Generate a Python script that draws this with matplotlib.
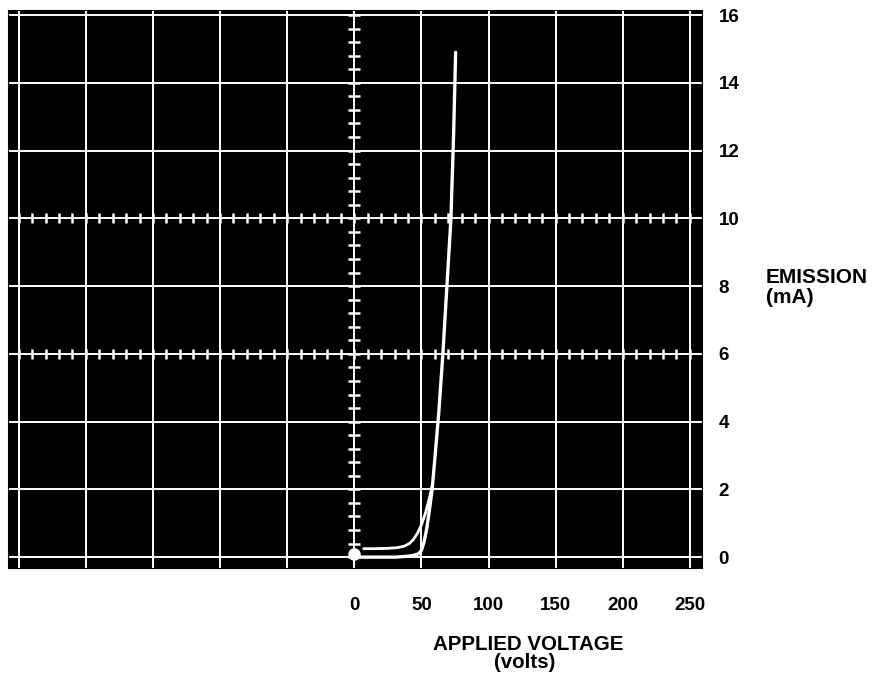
import numpy as np
import matplotlib.pyplot as plt

# trace (volts, mA)
rise_v = [0, 10, 20, 30, 38, 44, 48, 50, 52, 54, 56, 58, 60, 63, 66, 69, 72, 74, 75.5]
rise_ma = [0.0, 0.0, 0.0, 0.0, 0.02, 0.05, 0.1, 0.2, 0.45, 0.85, 1.4, 2.0, 2.9, 4.3, 6.0, 8.0, 10.0, 12.5, 14.9]

fall_v = [7, 15, 25, 32, 37, 41, 44, 47, 50, 53, 56, 58]
fall_ma = [0.25, 0.25, 0.26, 0.28, 0.32, 0.4, 0.52, 0.7, 0.95, 1.3, 1.75, 2.1]

volt_ticks = [-250, -200, -150, -100, -50, 0, 50, 100, 150, 200, 250]
volt_labels = ["", "", "", "", "", "0", "50", "100", "150", "200", "250"]
ma_ticks = [0, 2, 4, 6, 8, 10, 12, 14, 16]

plt.rcParams["font.family"] = ["Liberation Sans", "DejaVu Sans"]

fig = plt.figure(figsize=(8.77, 6.83), dpi=100)
ax = fig.add_axes([0.0091, 0.1684, 0.7913, 0.817])
ax.set_facecolor("black")
for s in ax.spines.values():
    s.set_color("black")

ax.set_xlim(-258, 259)
ax.set_ylim(-0.32, 16.15)
ax.set_xticks(volt_ticks)
ax.set_xticklabels(volt_labels)
ax.set_yticks(ma_ticks)
ax.yaxis.tick_right()
ax.tick_params(length=0, labelsize=13.5)
ax.tick_params(axis="x", pad=21)
ax.tick_params(axis="y", pad=12)
for lab in ax.get_xticklabels() + ax.get_yticklabels():
    lab.set_fontweight("bold")
ax.grid(True, color="white", lw=1.4)
ax.set_axisbelow(True)

# graticule minor marks
minor_y = np.arange(0, 16.01, 0.4)
ax.plot(np.zeros_like(minor_y), minor_y, ls="none", marker="_", ms=8, mew=1.8, color="white")
minor_x = np.arange(-250, 251, 10)
for yy in (6, 10):
    ax.plot(minor_x, np.full_like(minor_x, yy, dtype=float), ls="none", marker="|", ms=7, mew=1.8, color="white")

ax.plot(rise_v, rise_ma, color="white", lw=2.4, solid_capstyle="round")
ax.plot(fall_v, fall_ma, color="white", lw=2.0, solid_capstyle="round")
ax.plot([0], [0.08], marker="o", ms=8, color="white")

fig.text(0.873, 0.5857, "EMISSION", fontsize=15, fontweight="bold", ha="left", va="baseline")
fig.text(0.873, 0.557, "(mA)", fontsize=15, fontweight="bold", ha="left", va="baseline")
fig.text(0.602, 0.0483, "APPLIED VOLTAGE", fontsize=14.8, fontweight="bold", ha="center", va="baseline")
fig.text(0.598, 0.022, "(volts)", fontsize=14.8, fontweight="bold", ha="center", va="baseline")

fig.savefig("out.png", dpi=100)
